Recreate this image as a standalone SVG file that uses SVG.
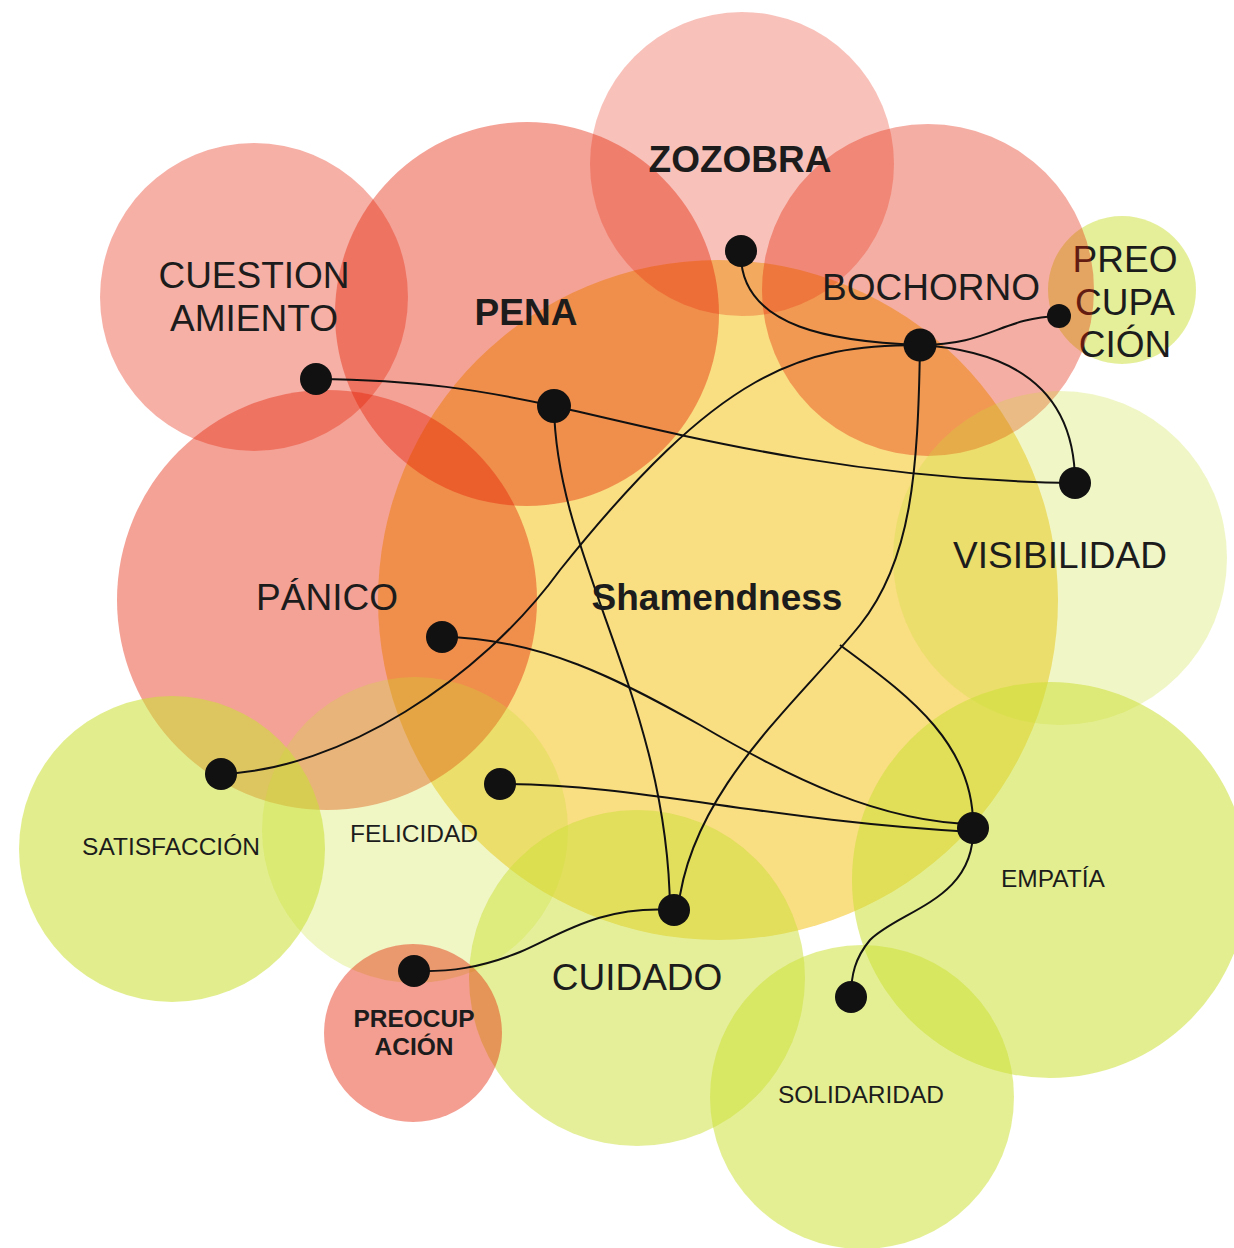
<svg xmlns="http://www.w3.org/2000/svg" width="1234" height="1248" viewBox="0 0 1234 1248">
  <style>
    .red { fill: #e41e00; }
    .grn { fill: #cce035; }
    .lbl { font-family: "Liberation Sans", Arial, sans-serif; fill: #1c1c1c; text-anchor: middle; }
    .big { font-size: 37px; }
    .sm { font-size: 24.5px; }
    .b { font-weight: bold; }
    .edge { fill: none; stroke: #111; stroke-width: 2; }
    .dot { fill: #111; }
  </style>
  <rect width="1234" height="1248" fill="#ffffff"/>
  <g id="n-shamendness">
    <circle cx="718" cy="600" r="340" fill="#f9de82"/>
  </g>
  <g id="n-preocupacion-top">
    <circle class="grn" cx="1122" cy="290" r="74" fill-opacity="0.5"/>
    <text class="lbl big" x="1125" y="272">PREO</text>
    <text class="lbl big" x="1125" y="315">CUPA</text>
    <text class="lbl big" x="1125" y="357">CIÓN</text>
  </g>
  <g id="n-cuestionamiento">
    <circle class="red" cx="254" cy="297" r="154" fill-opacity="0.35"/>
  </g>
  <g id="n-pena">
    <circle class="red" cx="527" cy="314" r="192" fill-opacity="0.41"/>
  </g>
  <g id="n-zozobra">
    <circle class="red" cx="742" cy="164" r="152" fill-opacity="0.27"/>
  </g>
  <g id="n-bochorno">
    <circle class="red" cx="928" cy="290" r="166" fill-opacity="0.36"/>
  </g>
  <g id="n-panico">
    <circle class="red" cx="327" cy="600" r="210" fill-opacity="0.41"/>
  </g>
  <g id="n-visibilidad">
    <circle class="grn" cx="1060" cy="558" r="167" fill-opacity="0.28"/>
  </g>
  <g id="n-satisfaccion">
    <circle class="grn" cx="172" cy="849" r="153" fill-opacity="0.56"/>
  </g>
  <g id="n-felicidad">
    <circle class="grn" cx="415" cy="830" r="153" fill-opacity="0.29"/>
  </g>
  <g id="n-cuidado">
    <circle class="grn" cx="637" cy="978" r="168" fill-opacity="0.5"/>
  </g>
  <g id="n-empatia">
    <circle class="grn" cx="1050" cy="880" r="198" fill-opacity="0.55"/>
  </g>
  <g id="n-solidaridad">
    <circle class="grn" cx="862" cy="1097" r="152" fill-opacity="0.53"/>
  </g>
  <g id="n-preocupacion-bottom">
    <circle class="red" cx="413" cy="1033" r="89" fill-opacity="0.43"/>
  </g>
  <g id="connectors">
    <path class="edge" d="M741,251 C738,330 840,342 920,345"/>
    <path class="edge" d="M920,345 C990,345 1000,318 1059,316"/>
    <path class="edge" d="M920,345 C1000,350 1075,380 1075,483"/>
    <path class="edge" d="M920,345 C918,470 912,560 860,625 C800,700 690,790 678,910"/>
    <path class="edge" d="M920,345 C800,345 720,370 560,570 C480,680 340,770 221,774"/>
    <path class="edge" d="M316,379 C420,380 480,390 554,406 C700,440 860,480 1075,483"/>
    <path class="edge" d="M554,406 C556,560 668,700 670,910"/>
    <path class="edge" d="M442,637 C540,638 620,680 700,725 C790,778 880,822 973,824"/>
    <path class="edge" d="M500,784 C640,784 760,820 973,832"/>
    <path class="edge" d="M840,645 C900,690 975,740 973,828"/>
    <path class="edge" d="M973,828 C975,900 900,910 870,940 C855,958 851,975 851,997"/>
    <path class="edge" d="M674,910 C600,905 560,935 520,952 C480,968 450,972 414,971"/>
  </g>
  <g id="dots">
    <circle class="dot" cx="741" cy="251" r="16"/>
    <circle class="dot" cx="920" cy="345" r="16.5"/>
    <circle class="dot" cx="1059" cy="316" r="12"/>
    <circle class="dot" cx="1075" cy="483" r="16"/>
    <circle class="dot" cx="316" cy="379" r="16"/>
    <circle class="dot" cx="554" cy="406" r="17"/>
    <circle class="dot" cx="442" cy="637" r="16"/>
    <circle class="dot" cx="221" cy="774" r="16"/>
    <circle class="dot" cx="500" cy="784" r="16"/>
    <circle class="dot" cx="973" cy="828" r="16"/>
    <circle class="dot" cx="674" cy="910" r="16"/>
    <circle class="dot" cx="414" cy="971" r="16"/>
    <circle class="dot" cx="851" cy="997" r="16"/>
  </g>
  <g id="labels">
    <text class="lbl big b" x="740" y="172">ZOZOBRA</text>
    <text class="lbl big b" x="526" y="325">PENA</text>
    <text class="lbl big" x="254" y="288">CUESTION</text>
    <text class="lbl big" x="254" y="331">AMIENTO</text>
    <text class="lbl big" x="931" y="300">BOCHORNO</text>
    <text class="lbl big" x="327" y="610">PÁNICO</text>
    <text class="lbl big b" x="717" y="610">Shamendness</text>
    <text class="lbl big" x="1060" y="568">VISIBILIDAD</text>
    <text class="lbl sm" x="171" y="855">SATISFACCIÓN</text>
    <text class="lbl sm" x="414" y="842">FELICIDAD</text>
    <text class="lbl sm" x="1053" y="887">EMPATÍA</text>
    <text class="lbl big" x="637" y="990">CUIDADO</text>
    <text class="lbl sm" x="861" y="1103">SOLIDARIDAD</text>
    <text class="lbl sm b" x="414" y="1027">PREOCUP</text>
    <text class="lbl sm b" x="414" y="1055">ACIÓN</text>
  </g>
</svg>
